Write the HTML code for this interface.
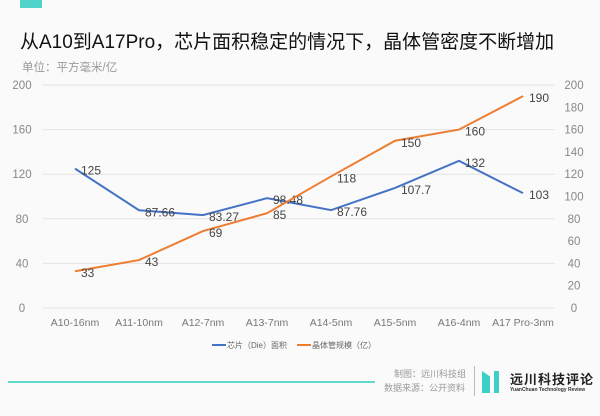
<!DOCTYPE html>
<html><head><meta charset="utf-8"><style>
body{margin:0;background:#fafafa;}
#wrap{position:relative;width:600px;height:416px;background:#fafafa;font-family:"Liberation Sans","Noto Sans CJK SC",sans-serif;overflow:hidden}
.t{position:absolute;white-space:nowrap}
</style></head><body>
<div id="wrap">
<div class="t" style="left:20px;top:0;width:22px;height:8px;background:#4fd3c9"></div>
<div class="t" style="left:20px;top:27px;font-size:19px;color:#111">从A10到A17Pro，芯片面积稳定的情况下，晶体管密度不断增加</div>
<div class="t" style="left:22px;top:59px;font-size:11.5px;color:#999">单位：平方毫米/亿</div>
<svg id="chart" width="600" height="416" style="position:absolute;left:0;top:0"></svg>
<div class="t" style="left:8px;top:381px;width:367px;height:2px;background:#5fd8d0"></div>
<div class="t" style="left:394px;top:367px;font-size:9px;color:#999">制图：远川科技组</div>
<div class="t" style="left:384px;top:381px;font-size:9px;color:#999">数据来源：公开资料</div>
<div class="t" style="left:474px;top:366px;width:1px;height:30px;background:#bbb"></div>
<div class="t" style="left:482px;top:371px;width:8px;height:22px;background:#3ccfc4;clip-path:polygon(0 0,100% 25%,100% 100%,0 100%)"></div>
<div class="t" style="left:494px;top:371px;width:5px;height:22px;background:#3ccfc4"></div>
<div class="t" style="left:510px;top:369px;font-size:13px;font-weight:bold;color:#222;letter-spacing:1px">远川科技评论</div>
<div class="t" style="left:510px;top:387px;font-size:5px;font-weight:bold;color:#333">YuanChuan Technology Review</div>
</div>
<script>
const categories=["A10-16nm","A11-10nm","A12-7nm","A13-7nm","A14-5nm","A15-5nm","A16-4nm","A17 Pro-3nm"];
const dieArea=[125,87.66,83.27,98.48,87.76,107.7,132,103];
const dieLabels=["125","87.66","83.27","98.48","87.76","107.7","132","103"];
const transistors=[33,43,69,85,118,150,160,190];
const transLabels=["33","43","69","85","118","150","160","190"];
const leftTicks=[0,40,80,120,160,200];
const rightTicks=[0,20,40,60,80,100,120,140,160,180,200];
const svg=document.getElementById('chart');const NS="http://www.w3.org/2000/svg";
const X0=43,X1=555,Y0=308,Y1=85;
const xs=i=>X0+(X1-X0)/categories.length*(i+0.5);
const y=v=>Y0-(v/200)*(Y0-Y1);
function mk(tag,attrs,txt){const e=document.createElementNS(NS,tag);for(const k in attrs)e.setAttribute(k,attrs[k]);if(txt!=null)e.textContent=txt;svg.appendChild(e);return e;}
leftTicks.forEach(v=>{
 const g=mk('line',{x1:X0,x2:X1,y1:y(v),y2:y(v),stroke:'#e3e3e3','stroke-width':1});
 
 
 const t=mk('text',{x:22,y:y(v)+4,'text-anchor':'middle','font-size':11.5,fill:'#888'},v);
 
 
});
rightTicks.forEach(v=>{
 const t=mk('text',{x:574,y:y(v)+4,'text-anchor':'middle','font-size':11.5,fill:'#888'},v);
 
 
});
categories.forEach((c,i)=>{
 const t=mk('text',{x:xs(i),y:326,'text-anchor':'middle','font-size':10.5,fill:'#777'},c);
 
 
});
function series(vals,labels,color,name){
 const p=mk('polyline',{points:vals.map((v,i)=>xs(i)+','+y(v)).join(' '),fill:'none',stroke:color,'stroke-width':2});
 
 
 vals.forEach((v,i)=>{
  const t=mk('text',{x:xs(i)+6,y:y(v)+6,'font-size':12,fill:'#444'},labels[i]);
  
  
 });
}
series(dieArea,dieLabels,'#4472c4','die-area');
series(transistors,transLabels,'#ed7d31','transistor');
const l1=mk('line',{x1:212,x2:226,y1:345,y2:345,stroke:'#4472c4','stroke-width':2});


const lt1=mk('text',{x:227,y:348,'font-size':8,fill:'#666'},'芯片（Die）面积');


const l2=mk('line',{x1:297,x2:311,y1:345,y2:345,stroke:'#ed7d31','stroke-width':2});


const lt2=mk('text',{x:312,y:348,'font-size':8,fill:'#666'},'晶体管规模（亿）');


</script>
</body></html>
